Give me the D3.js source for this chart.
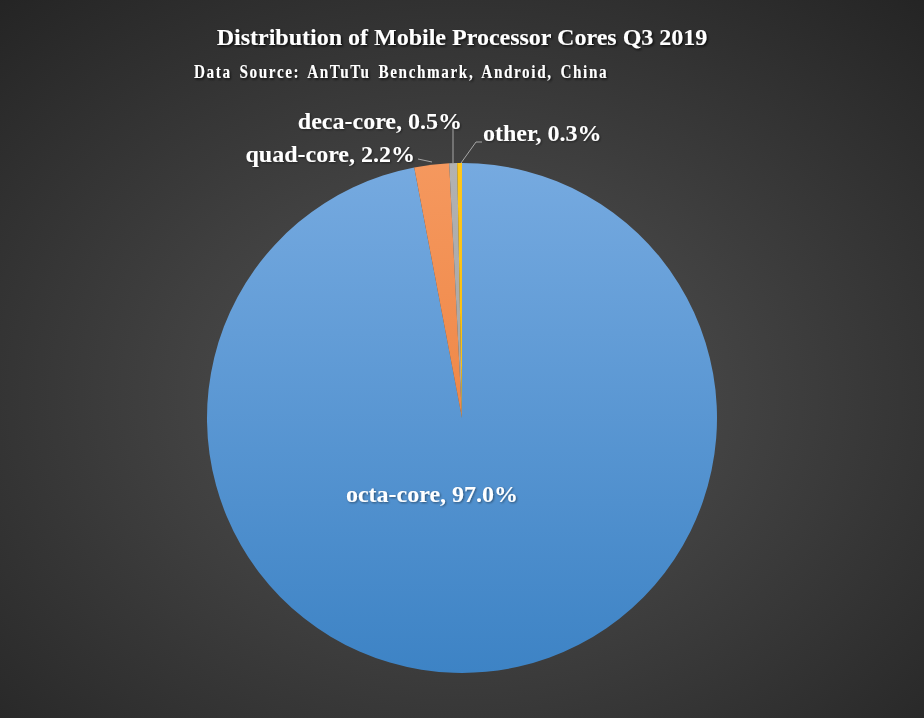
<!DOCTYPE html>
<html>
<head>
<meta charset="utf-8">
<script src="https://cdn.jsdelivr.net/npm/d3@7"></script>
<style>
  html, body { margin: 0; padding: 0; background: #333; }
  svg { display: block; }
  text { font-family: "Liberation Serif", "Times New Roman", serif; font-weight: bold; fill: #fff; }
</style>
</head>
<body>
<svg id="chart" width="924" height="718"></svg>
<script>
// ---- data ----
const categories = ["octa-core", "quad-core", "deca-core", "other"];
const values = [97.0, 2.2, 0.5, 0.3];
const titleText = "Distribution of Mobile Processor Cores Q3 2019";
const subtitleText = "Data Source: AnTuTu Benchmark, Android, China";

// ---- layout / style ----
const W = 924, H = 718;
const cx = 462, cy = 418, R = 255;
const colorsTop = ["#76aae0", "#f5985e", "#b2b2b2", "#ffc61a"];
const colorsBot = ["#3d83c5", "#e97832", "#989898", "#f2b600"];
// label placement relative to pie center, leader line points relative to center
const labelLayout = [
  { x: -30, y: 84, anchor: "middle", leader: null },
  { x: -47, y: -256, anchor: "end", leader: [[-44, -259], [-30, -256]] },
  { x: 0, y: -289, anchor: "end", leader: [[-9, -293], [-9, -255]] },
  { x: 21, y: -277, anchor: "start", leader: [[20, -276], [14, -276], [-1, -255]] }
];

const svg = d3.select("#chart");
const defs = svg.append("defs");

// background radial gradient
const bg = defs.append("radialGradient").attr("id", "bg")
  .attr("cx", "50%").attr("cy", "55%").attr("r", "75%");
bg.append("stop").attr("offset", "0%").attr("stop-color", "#555555");
bg.append("stop").attr("offset", "100%").attr("stop-color", "#242424");
svg.append("rect").attr("width", W).attr("height", H).attr("fill", "url(#bg)");

// text shadows
const f = defs.append("filter").attr("id", "shadow").attr("x", "-10%").attr("y", "-30%").attr("width", "120%").attr("height", "160%");
f.append("feDropShadow").attr("dx", 1.5).attr("dy", 1.5).attr("stdDeviation", 1.2).attr("flood-color", "#000").attr("flood-opacity", 0.75);
const f2 = defs.append("filter").attr("id", "shadow2").attr("x", "-10%").attr("y", "-30%").attr("width", "120%").attr("height", "160%");
f2.append("feDropShadow").attr("dx", 1).attr("dy", 1).attr("stdDeviation", 0.8).attr("flood-color", "#000").attr("flood-opacity", 0.45);

// slice gradients (local coords of the pie group)
categories.forEach((c, i) => {
  const g = defs.append("linearGradient").attr("id", "g" + i)
    .attr("gradientUnits", "userSpaceOnUse")
    .attr("x1", 0).attr("y1", -R).attr("x2", 0).attr("y2", R);
  g.append("stop").attr("offset", "0%").attr("stop-color", colorsTop[i]);
  g.append("stop").attr("offset", "100%").attr("stop-color", colorsBot[i]);
});

// pie
const data = categories.map((c, i) => ({ name: c, value: values[i], i }));
const pie = d3.pie().value(d => d.value).sort(null);
const arc = d3.arc().innerRadius(0).outerRadius(R);
const arcs = pie(data);

const gPie = svg.append("g").attr("transform", `translate(${cx},${cy})`);
gPie.selectAll("path").data(arcs).join("path")
  .attr("d", arc)
  .attr("fill", d => `url(#g${d.data.i})`)
  .attr("stroke", "none");

// leader lines
gPie.selectAll("polyline").data(labelLayout.filter(l => l.leader)).join("polyline")
  .attr("points", l => l.leader.map(p => p.join(",")).join(" "))
  .attr("fill", "none").attr("stroke", "#a6a6a6").attr("stroke-width", 1);

// labels
gPie.selectAll("text.lbl").data(arcs).join("text")
  .attr("class", "lbl")
  .attr("x", d => labelLayout[d.data.i].x)
  .attr("y", d => labelLayout[d.data.i].y)
  .attr("text-anchor", d => labelLayout[d.data.i].anchor)
  .attr("font-size", 24)
  .attr("filter", "url(#shadow2)")
  .text(d => `${d.data.name}, ${d3.format(".1f")(d.data.value)}%`);

// titles
svg.append("text").attr("x", 462).attr("y", 45).attr("text-anchor", "middle")
  .attr("font-size", 24).attr("filter", "url(#shadow)").text(titleText);
const sx = 0.8;
svg.append("g").attr("transform", `translate(194,78) scale(${sx},1)`)
  .append("text").attr("x", 0).attr("y", 0)
  .attr("font-size", 19).attr("letter-spacing", 1.8).attr("word-spacing", 3)
  .attr("textLength", 414 / sx).attr("lengthAdjust", "spacing")
  .attr("filter", "url(#shadow)").text(subtitleText);
</script>
</body>
</html>
